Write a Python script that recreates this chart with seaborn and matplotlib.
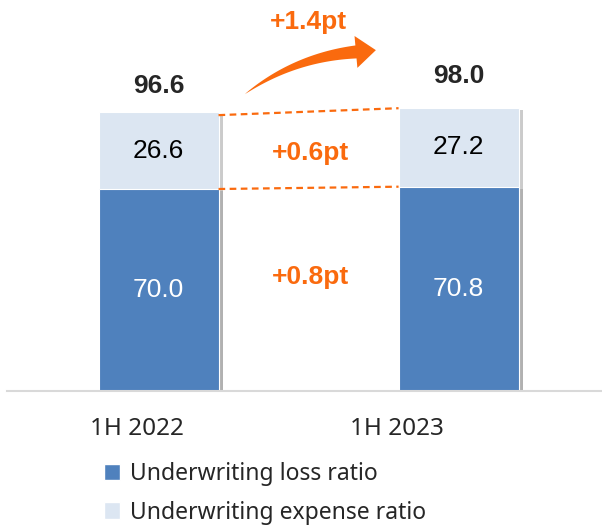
import matplotlib
matplotlib.use("Agg")
import matplotlib.pyplot as plt
import matplotlib.patheffects as pe
from matplotlib.patches import Patch, Polygon
from matplotlib.transforms import IdentityTransform
import numpy as np
import pandas as pd
import seaborn as sns

# Data
periods = ["1H 2022", "1H 2023"]
loss_ratio = [70.0, 70.8]
expense_ratio = [26.6, 27.2]
combined_ratio = [96.6, 98.0]
change_labels = ["+1.4pt", "+0.6pt", "+0.8pt"]

dark_blue = "#4F81BD"
light_blue = "#DCE6F2"
orange = "#FA6A0E"

df = pd.DataFrame({"Period": periods, "Loss": loss_ratio,
                   "Expense": expense_ratio, "Total": combined_ratio})

sns.set_style("white")
plt.rcParams["font.family"] = ["Liberation Sans", "DejaVu Sans"]

fig = plt.figure(figsize=(6.02, 5.29), dpi=100)
ax = fig.add_axes([7 / 602, 138 / 529, 595 / 602, 391 / 529])

shadow = [pe.SimplePatchShadow(offset=(3, -1.5), shadow_rgbFace="#999999", alpha=0.5), pe.Normal()]

# Stacked bars: total drawn first in light colour, loss ratio on top
sns.barplot(data=df, x="Period", y="Total", color=light_blue, width=0.4,
            saturation=1, edgecolor="white", linewidth=0.8, ax=ax)
sns.barplot(data=df, x="Period", y="Loss", color=dark_blue, width=0.4,
            saturation=1, edgecolor="white", linewidth=0.8, ax=ax)
for p in ax.patches:
    p.set_path_effects(shadow)

ax.set_xlim(-0.505, 1.478)
ax.set_ylim(0, 135.5)

# Value labels
for i in range(len(periods)):
    ax.text(i, loss_ratio[i] / 2, f"{loss_ratio[i]:.1f}", ha="center", va="center",
            color="white", fontsize=19)
    ax.text(i, loss_ratio[i] + expense_ratio[i] / 2, f"{expense_ratio[i]:.1f}",
            ha="center", va="center", color="black", fontsize=19)
ax.text(0, combined_ratio[0] + 9.1, f"{combined_ratio[0]:.1f}", ha="center", va="center",
        fontsize=19, fontweight="bold")
ax.text(1, combined_ratio[1] + 11.1, f"{combined_ratio[1]:.1f}", ha="center", va="center",
        fontsize=19, fontweight="bold")

# Dashed connectors between the bars
ax.plot([0.2, 0.8], [combined_ratio[0] - 1, combined_ratio[1]], color=orange,
        linestyle=(0, (3, 2)), linewidth=1.6)
ax.plot([0.2, 0.8], [loss_ratio[0], loss_ratio[1]], color=orange,
        linestyle=(0, (3, 2)), linewidth=1.6)

# Change annotations
ax.text(0.505, 82.5, change_labels[1], ha="center", va="center", color=orange,
        fontsize=19, fontweight="bold")
ax.text(0.505, 39.5, change_labels[2], ha="center", va="center", color=orange,
        fontsize=19, fontweight="bold")
ax.text(0.498, 127.9, change_labels[0], ha="center", va="center", color=orange,
        fontsize=19, fontweight="bold")

# Curved arrow that widens from a sharp tail to a big head (built in pixel space)
p0 = ax.transData.transform((0.288, 102.9))
p1 = ax.transData.transform((0.658, 117.5))
chord = p1 - p0
ctrl = (p0 + p1) / 2 + 0.14 * np.array([-chord[1], chord[0]])
t = np.linspace(0, 1, 50)[:, None]
curve = (1 - t) ** 2 * p0 + 2 * (1 - t) * t * ctrl + t ** 2 * p1
deriv = 2 * (1 - t) * (ctrl - p0) + 2 * t * (p1 - ctrl)
deriv = deriv / np.linalg.norm(deriv, axis=1, keepdims=True)
normal = np.column_stack([-deriv[:, 1], deriv[:, 0]])
half = 6.5 * t ** 0.85
upper = curve + normal * half
lower = curve - normal * half
tip = p1 + deriv[-1] * 20
head = [p1 + normal[-1] * 16, tip, p1 - normal[-1] * 16]
outline = np.vstack([upper, head, lower[::-1]])
ax.add_patch(Polygon(outline, closed=True, facecolor=orange, edgecolor="none",
                     transform=IdentityTransform(), clip_on=False))

# Axes styling
for side in ["top", "right", "left"]:
    ax.spines[side].set_visible(False)
ax.spines["bottom"].set_color("#D9D9D9")
ax.spines["bottom"].set_linewidth(1.5)
ax.set_yticks([])
ax.set_xlabel("")
ax.set_ylabel("")
ax.set_xticks([-0.072, 0.795])
ax.set_xticklabels(periods, fontsize=17.5, family=["Noto Sans", "DejaVu Sans"])
ax.tick_params(axis="x", length=0, pad=19)

handles = [Patch(facecolor=dark_blue, label="Underwriting loss ratio"),
           Patch(facecolor=light_blue, label="Underwriting expense ratio")]
fig.legend(handles=handles, loc="upper left", bbox_to_anchor=(83 / 602, 1 - 441 / 529),
           frameon=False, prop={"family": ["Noto Sans", "DejaVu Sans"], "size": 16.5},
           handlelength=0.7, handleheight=0.7, handletextpad=0.45, labelspacing=0.65)

fig.savefig("out.png", dpi=100)
